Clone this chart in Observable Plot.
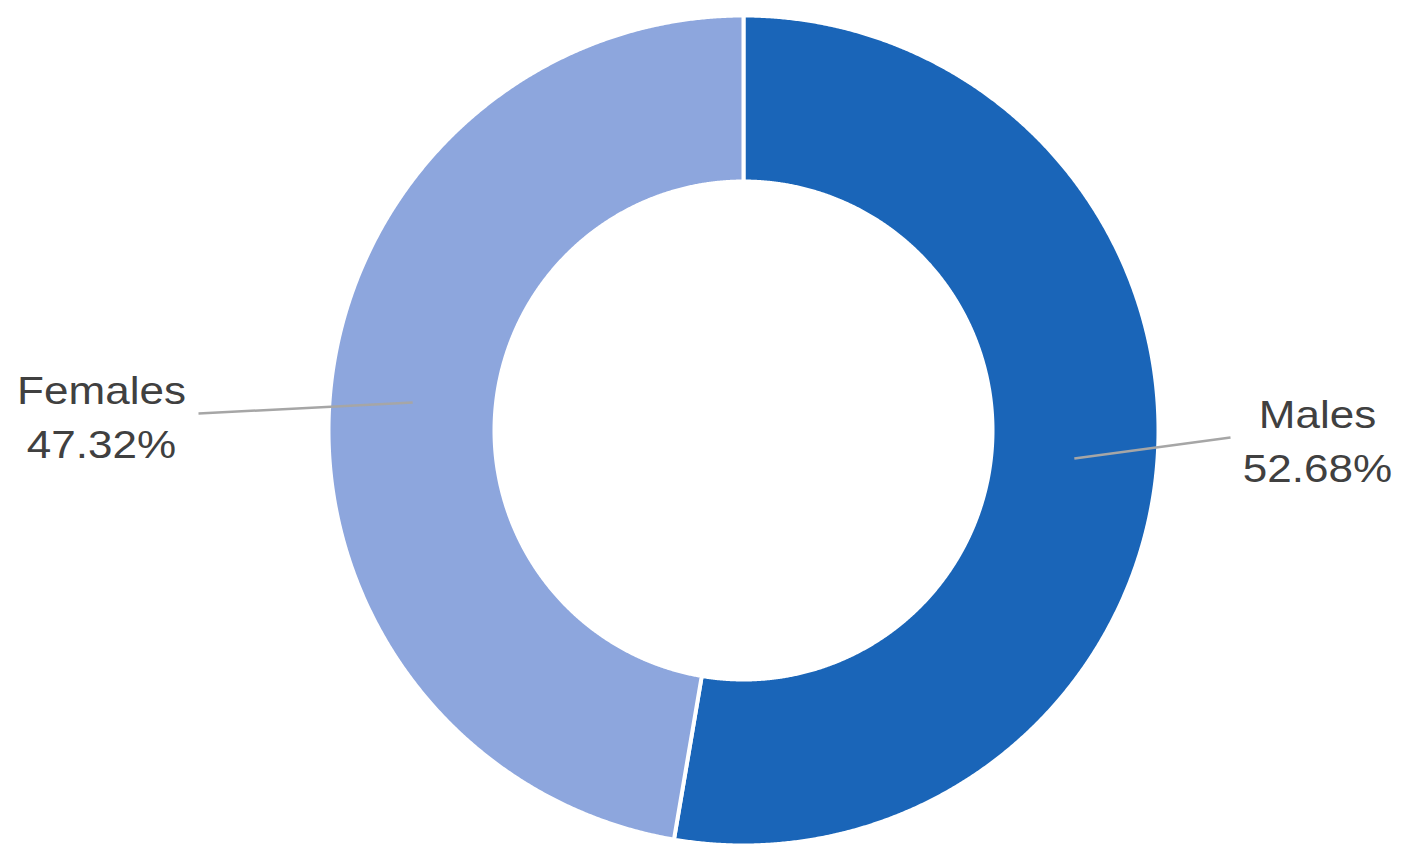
<!DOCTYPE html>
<html><head><meta charset="utf-8">
<script src="https://cdn.jsdelivr.net/npm/d3@7"></script>
<script src="https://cdn.jsdelivr.net/npm/@observablehq/plot@0.6"></script>
<style>html,body{margin:0;padding:0;background:#fff;overflow:hidden;}</style>
</head><body><div id="chart"></div>
<script>
// ---- data ----
const categories = ["Males", "Females"];
const shares = [52.68, 47.32];
const labels = ["Males\n52.68%", "Females\n47.32%"];
const colors = ["#1a65b8", "#8da6dd"];

// ---- layout ----
const W = 1404, H = 862, cx = 743, cy = 430;
const rOuter = 415, rInner = 249, rMid = 332;
const leaderLayout = {
  Males:   {ex: 487, ey: 7,   tx: 574},
  Females: {ex: -545, ey: -17, tx: -642}
};

const pie = d3.pie().sort(null).value(d => d)(shares);
const ring = [];
pie.forEach((p, i) => {
  const n = Math.max(2, Math.ceil((p.endAngle - p.startAngle) / 0.004));
  for (let k = 0; k <= n; k++) {
    const a = p.startAngle + (p.endAngle - p.startAngle) * k / n;
    ring.push({category: categories[i], x: rOuter * Math.sin(a), y: -rOuter * Math.cos(a)});
  }
  for (let k = n; k >= 0; k--) {
    const a = p.startAngle + (p.endAngle - p.startAngle) * k / n;
    ring.push({category: categories[i], x: rInner * Math.sin(a), y: -rInner * Math.cos(a)});
  }
});

const labelRows = pie.map((p, i) => {
  const mid = (p.startAngle + p.endAngle) / 2;
  const L = leaderLayout[categories[i]];
  return {
    category: categories[i],
    label: labels[i],
    x1: rMid * Math.sin(mid), y1: -rMid * Math.cos(mid),
    x2: L.ex, y2: L.ey,
    tx: L.tx, ty: L.ey
  };
});

const chart = Plot.plot({
  width: W, height: H, margin: 0,
  style: {background: "#fff", overflow: "visible"},
  x: {domain: [-cx, W - cx], range: [0, W], axis: null},
  y: {domain: [-cy, H - cy], range: [0, H], axis: null},
  color: {domain: categories, range: colors},
  marks: [
    Plot.line(ring, {x: "x", y: "y", z: "category", fill: "category", stroke: "white", strokeWidth: 4, curve: "linear-closed"}),
    Plot.link(labelRows, {x1: "x1", y1: "y1", x2: "x2", y2: "y2", stroke: "#a6a6a6", strokeWidth: 2.5}),
    Plot.text(labelRows, {x: "tx", y: "ty", text: "label", fontSize: 39, lineHeight: 1.385, fill: "#404040", fontFamily: "Liberation Sans, Arial, sans-serif", textAnchor: "middle"})
  ]
});
chart.querySelectorAll('g[aria-label="text"] text').forEach(t => {
  t.setAttribute("transform", (t.getAttribute("transform") || "") + " scale(1.13,1)");
});
document.getElementById("chart").appendChild(chart);
</script>
</body></html>
